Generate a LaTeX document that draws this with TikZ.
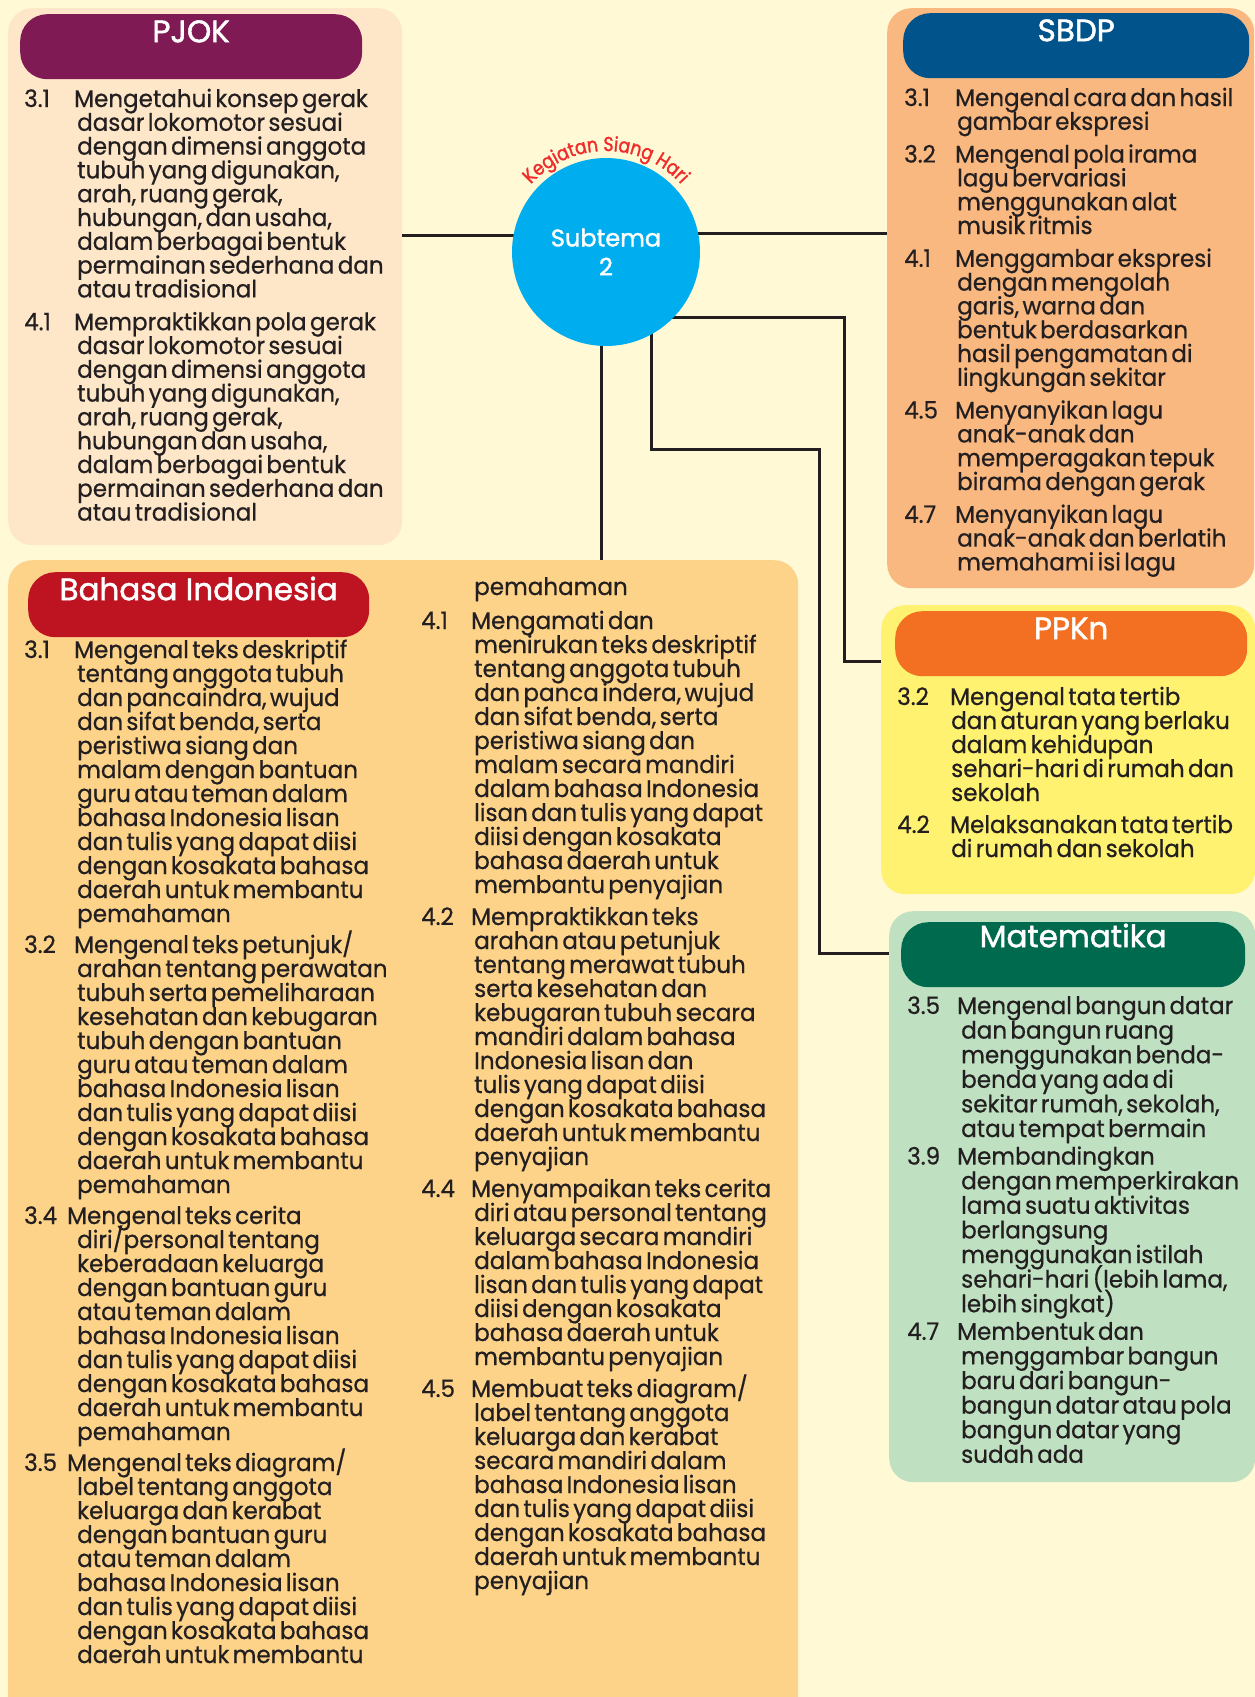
\documentclass[tikz,border=0pt]{standalone}
\usepackage{fontspec}
\setmainfont[FakeStretch=0.96, FakeBold=0.6]{Poppins}
\newfontfamily\headfont[FakeBold=1.5]{Poppins}
\newfontfamily\arcfam[FakeBold=1.5, FakeStretch=0.86]{Poppins}
\usetikzlibrary{decorations.text}

\definecolor{bgcol}{HTML}{FFF9D6}
\definecolor{txtcol}{HTML}{231F20}
\definecolor{pjokbg}{HTML}{FEE7C9}
\definecolor{pjokhd}{HTML}{7F1A55}
\definecolor{sbdpbg}{HTML}{F9B880}
\definecolor{sbdphd}{HTML}{00538B}
\definecolor{ppknbg}{HTML}{FFF271}
\definecolor{ppknhd}{HTML}{F37022}
\definecolor{matbg}{HTML}{BFE1C2}
\definecolor{mathd}{HTML}{006A4E}
\definecolor{bibg}{HTML}{FDD38A}
\definecolor{bihd}{HTML}{BE1320}
\definecolor{subcol}{HTML}{00AEEF}
\definecolor{arccol}{HTML}{EE2D2B}

% one competency: number, first line, hanging lines
\newlength{\kdhang}
\newlength{\kdgap}
\newcommand{\kd}[3][50pt]{{\def\\{\par\noindent\hspace*{\kdhang}}\noindent\makebox[#1][l]{#2}#3\par}\vspace{\kdgap}}
\newcommand{\isi}[3]{\fontsize{24}{#1}\selectfont\lineskiplimit=-100pt\setlength{\kdhang}{#2}\setlength{\kdgap}{#3}}
\newcommand{\arcfont}{\arcfam\fontsize{20}{20}\selectfont}

\begin{document}
\begin{tikzpicture}[x=1pt,y=-1pt,
	box/.style={rounded corners=24pt, inner sep=0pt, anchor=north west},
	head/.style={rounded corners=27pt, inner sep=0pt, anchor=north west, minimum height=65pt,
		text=white, font=\headfont\fontsize{31}{31}\selectfont, text height=20pt, text depth=29pt},
	body/.style={inner sep=0pt, anchor=base west, text width=420pt, text=txtcol},
	link/.style={draw=txtcol, line width=3pt}]
	\useasboundingbox (0,0) rectangle (1255,1697);
	\fill[bgcol] (0,0) rectangle (1255,1697);

	%boxes
		\node[box, fill=pjokbg, minimum width=394pt, minimum height=537pt] (pjok) at (8,8) {};
		\node[box, fill=sbdpbg, minimum width=367pt, minimum height=580pt] (sbdp) at (887,8) {};
		\node[box, fill=ppknbg, minimum width=374pt, minimum height=289pt] (ppkn) at (881,605) {};
		\node[box, fill=matbg, minimum width=366pt, minimum height=571pt] (mat) at (889,911) {};
		\node[box, fill=bibg, minimum width=790pt, minimum height=1180pt] (bi) at (8,560) {};

	%headers
		\node[head, fill=pjokhd, minimum width=342pt] (pjokh) at (20,14) {PJOK};
		\node[head, fill=sbdphd, minimum width=346pt] (sbdph) at (903,13) {SBDP};
		\node[head, fill=ppknhd, minimum width=352pt] (ppknh) at (895,611) {PPKn};
		\node[head, fill=mathd, minimum width=344pt, text height=17pt, text depth=32pt] (math) at (901,922) {Matematika};
		\node[head, fill=bihd, minimum width=341pt] (bih) at (28,572) {Bahasa Indonesia};

	%connectors
		\coordinate (lp) at (560,235);
		\coordinate (ls) at (650,233);
		\coordinate (lk1) at (844,317);
		\coordinate (lk2) at (844,661);
		\coordinate (lm1) at (651,449);
		\coordinate (lm2) at (819,449);
		\coordinate (lm3) at (819,953);
		\coordinate (lb) at (601,560);
		\draw[link] (pjok.east |- lp) -- (lp);
		\draw[link] (ls) -- (sbdp.west |- ls);
		\draw[link] (640,317) -- (lk1) -- (lk2) -- (ppkn.west |- lk2);
		\draw[link] (lm1 |- 0,300) -- (lm1) -- (lm2) -- (lm3) -- (mat.west |- lm3);
		\draw[link] (lb |- 0,300) -- (lb);

	%centre
		\node[circle, fill=subcol, minimum size=188pt, inner sep=0pt, text=white, align=center,
			font=\headfont\fontsize{24}{29}\selectfont] (sub) at (606,252) {Subtema\\2};
		\path[postaction={decorate}, decoration={text along path, text color=arccol,
			text={|\arcfont|Kegiatan Siang Hari}, text align=center}]
			([shift={(160:101pt)}]sub.center) arc[start angle=160, end angle=20, radius=101pt];

	%PJOK
		\node[body] (pjokt) at (24,107) {\isi{23.8pt}{53pt}{9pt}%
			\kd{3.1}{Mengetahui konsep gerak\\dasar lokomotor sesuai\\dengan dimensi anggota\\tubuh yang digunakan,\\arah, ruang gerak,\\hubungan, dan usaha,\\dalam berbagai bentuk\\permainan sederhana dan\\atau tradisional}%
			\kd{4.1}{Mempraktikkan pola gerak\\dasar lokomotor sesuai\\dengan dimensi anggota\\tubuh yang digunakan,\\arah, ruang gerak,\\hubungan dan usaha,\\dalam berbagai bentuk\\permainan sederhana dan\\atau tradisional}};

	%SBDP
		\node[body] (sbdpt) at (904,106) {\isi{23.8pt}{53pt}{9pt}%
			\kd[51pt]{3.1}{Mengenal cara dan hasil\\gambar ekspresi}%
			\kd[51pt]{3.2}{Mengenal pola irama\\lagu bervariasi\\menggunakan alat\\musik ritmis}%
			\kd[51pt]{4.1}{Menggambar ekspresi\\dengan mengolah\\garis, warna dan\\bentuk berdasarkan\\hasil pengamatan di\\lingkungan sekitar}%
			\kd[51pt]{4.5}{Menyanyikan lagu\\anak-anak dan\\memperagakan tepuk\\birama dengan gerak}%
			\kd[51pt]{4.7}{Menyanyikan lagu\\anak-anak dan berlatih\\memahami isi lagu}};

	%PPKn
		\node[body] (ppknt) at (897,705) {\isi{24pt}{54pt}{8pt}%
			\kd[53pt]{3.2}{Mengenal tata tertib\\dan aturan yang berlaku\\dalam kehidupan\\sehari-hari di rumah dan\\sekolah}%
			\kd[53pt]{4.2}{Melaksanakan tata tertib\\di rumah dan sekolah}};

	%Matematika
		\node[body] (matt) at (907,1014) {\isi{24.6pt}{54pt}{3pt}%
			\kd{3.5}{Mengenal bangun datar\\dan bangun ruang\\menggunakan benda-\\benda yang ada di\\sekitar rumah, sekolah,\\atau tempat bermain}%
			\kd{3.9}{Membandingkan\\dengan memperkirakan\\lama suatu aktivitas\\berlangsung\\menggunakan istilah\\sehari-hari (lebih lama,\\lebih singkat)}%
			\kd{4.7}{Membentuk dan\\menggambar bangun\\baru dari bangun-\\bangun datar atau pola\\bangun datar yang\\sudah ada}};

	%Bahasa Indonesia, column 1
		\node[body] (bit1) at (24,658) {\isi{24pt}{53pt}{7pt}%
			\kd{3.1}{Mengenal teks deskriptif\\tentang anggota tubuh\\dan pancaindra, wujud\\dan sifat benda, serta\\peristiwa siang dan\\malam dengan bantuan\\guru atau teman dalam\\bahasa Indonesia lisan\\dan tulis yang dapat diisi\\dengan kosakata bahasa\\daerah untuk membantu\\pemahaman}%
			\kd{3.2}{Mengenal teks petunjuk/\\arahan tentang perawatan\\tubuh serta pemeliharaan\\kesehatan dan kebugaran\\tubuh dengan bantuan\\guru atau teman dalam\\bahasa Indonesia lisan\\dan tulis yang dapat diisi\\dengan kosakata bahasa\\daerah untuk membantu\\pemahaman}%
			\kd[43pt]{3.4}{Mengenal teks cerita\\diri/personal tentang\\keberadaan keluarga\\dengan bantuan guru\\atau teman dalam\\bahasa Indonesia lisan\\dan tulis yang dapat diisi\\dengan kosakata bahasa\\daerah untuk membantu\\pemahaman}%
			\kd[43pt]{3.5}{Mengenal teks diagram/\\label tentang anggota\\keluarga dan kerabat\\dengan bantuan guru\\atau teman dalam\\bahasa Indonesia lisan\\dan tulis yang dapat diisi\\dengan kosakata bahasa\\daerah untuk membantu}};

	%Bahasa Indonesia, column 2
		\node[body] (bit2) at (421,595) {\isi{24pt}{53pt}{8pt}%
			\noindent\hspace*{53pt}pemahaman\par\vspace{10pt}%
			\kd{4.1}{Mengamati dan\\menirukan teks deskriptif\\tentang anggota tubuh\\dan panca indera, wujud\\dan sifat benda, serta\\peristiwa siang dan\\malam secara mandiri\\dalam bahasa Indonesia\\lisan dan tulis yang dapat\\diisi dengan kosakata\\bahasa daerah untuk\\membantu penyajian}%
			\kd{4.2}{Mempraktikkan teks\\arahan atau petunjuk\\tentang merawat tubuh\\serta kesehatan dan\\kebugaran tubuh secara\\mandiri dalam bahasa\\Indonesia lisan dan\\tulis yang dapat diisi\\dengan kosakata bahasa\\daerah untuk membantu\\penyajian}%
			\kd{4.4}{Menyampaikan teks cerita\\diri atau personal tentang\\keluarga secara mandiri\\dalam bahasa Indonesia\\lisan dan tulis yang dapat\\diisi dengan kosakata\\bahasa daerah untuk\\membantu penyajian}%
			\kd{4.5}{Membuat teks diagram/\\label tentang anggota\\keluarga dan kerabat\\secara mandiri dalam\\bahasa Indonesia lisan\\dan tulis yang dapat diisi\\dengan kosakata bahasa\\daerah untuk membantu\\penyajian}};
\end{tikzpicture}
\end{document}
